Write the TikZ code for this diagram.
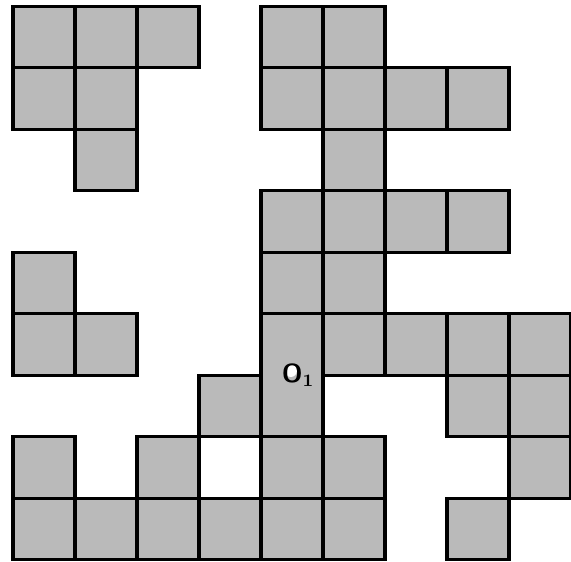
\documentclass[tikz,border=0pt]{standalone}
\usepackage{tikz}
\usetikzlibrary{positioning}

\begin{document}
\begin{tikzpicture}[x=1cm, y=0.992cm,
    cell/.style={draw, fill=black!27, line width=1.4pt},
    lbl/.style={font=\large\sffamily\bfseries, inner sep=1pt}
  ]
    \useasboundingbox (-0.21,-0.03) rectangle (9,9.1);
    % single squares, (column, row from bottom)
    \foreach \x/\y in {0/8,1/8,2/8,4/8,5/8,
                       0/7,1/7,4/7,5/7,6/7,7/7,
                       1/6,5/6,
                       4/5,5/5,6/5,7/5,
                       0/4,4/4,5/4,
                       0/3,1/3,5/3,6/3,7/3,8/3,
                       3/2,7/2,8/2,
                       0/1,2/1,4/1,5/1,8/1,
                       0/0,1/0,2/0,3/0,4/0,5/0,7/0}
      \draw[cell] (\x,\y) rectangle +(1,1);
    % the tall square holding O1
    \draw[cell] (4,2) rectangle (5,4);
    \fill[white] (4.48,3.07) circle (0.1);
    \node[lbl] (o1) at (4.6,3.0) {O$_{\mathbf{1}}$};
  \end{tikzpicture}
\end{document}
